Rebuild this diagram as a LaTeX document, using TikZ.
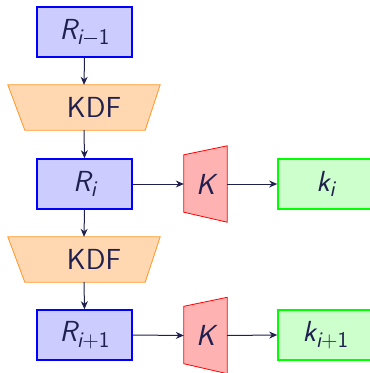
\documentclass[tikz,border=0pt]{standalone}
\usepackage{fontspec}
\usetikzlibrary{arrows.meta,backgrounds}
\definecolor{txt}{RGB}{32,32,78}
\definecolor{bfill}{RGB}{204,204,255}
\definecolor{ofill}{RGB}{255,216,178}
\definecolor{oline}{RGB}{255,150,40}
\definecolor{rfill}{RGB}{255,178,178}
\definecolor{gfill}{RGB}{204,255,204}
\newcommand\idx[2]{{\itshape #1}\raisebox{-0.2em}{\fontsize{22.5}{22.5}\selectfont #2}}
\newcommand\mminus{\makebox[0.74em]{\rule[0.25em]{0.6em}{0.045em}}}
\newcommand\mplus{\makebox[0.74em]{+}}
\tikzset{
  every node/.style={font=\sffamily\fontsize{29}{29}\selectfont, text=txt, inner sep=0pt},
  rbox/.style={draw=blue, fill=bfill, line width=1.6pt, minimum width=95pt, minimum height=50pt},
  gbox/.style={draw=green, fill=gfill, line width=1.6pt, minimum width=95pt, minimum height=50pt},
  kdfarea/.style={minimum width=152pt, minimum height=45pt},
  karea/.style={minimum width=43pt, minimum height=76pt},
  kdfshape/.style={draw=oline, fill=ofill, line width=0.8pt},
  kshape/.style={draw=red, fill=rfill, line width=0.8pt},
  conn/.style={draw=txt, line width=1pt, -{Stealth[length=8pt,width=7pt]}}
}
\begin{document}
\begin{tikzpicture}[x=1pt,y=-1pt]
\useasboundingbox[clip] (0,0) rectangle (370,373);
\node[rbox] (r0) at (84.5,32) {\idx{R}{\itshape i\upshape\mminus 1}};
\node[kdfarea] (d1) at (84,107.5) {\hspace*{20pt}KDF};
\node[rbox] (r1) at (84.5,184) {\idx{R}{\itshape i}};
\node[karea] (k1) at (205.5,184) {\itshape K};
\node[gbox] (g1) at (325.5,184) {\idx{k}{\itshape i}};
\node[kdfarea] (d2) at (84,259.5) {\hspace*{20pt}KDF};
\node[rbox] (r2) at (84.5,335) {\idx{R}{\itshape i\upshape\mplus 1}};
\node[karea] (k2) at (205.5,335.5) {\itshape K};
\node[gbox] (g2) at (325.5,335) {\idx{k}{\itshape i\upshape\mplus 1}};
\begin{scope}[on background layer]
  \foreach \d in {d1,d2}{
    \path[kdfshape] (\d.north west) -- (\d.north east) -- ([xshift=-15pt]\d.south east) -- ([xshift=17pt]\d.south west) -- cycle;
  }
  \foreach \k in {k1,k2}{
    \path[kshape] (\k.north east) -- (\k.south east) -- ([yshift=10pt]\k.south west) -- ([yshift=-9pt]\k.north west) -- cycle;
  }
\end{scope}
\draw[conn] (r0.south) -- (d1.north);
\draw[conn] (d1.south) -- (r1.north);
\draw[conn] (r1.south) -- (d2.north);
\draw[conn] (d2.south) -- (r2.north);
\draw[conn] (r1.east) -- (k1.west);
\draw[conn] (k1.east) -- (g1.west);
\draw[conn] (r2.east) -- (k2.west);
\draw[conn] (k2.east) -- (g2.west);
\end{tikzpicture}
\end{document}
